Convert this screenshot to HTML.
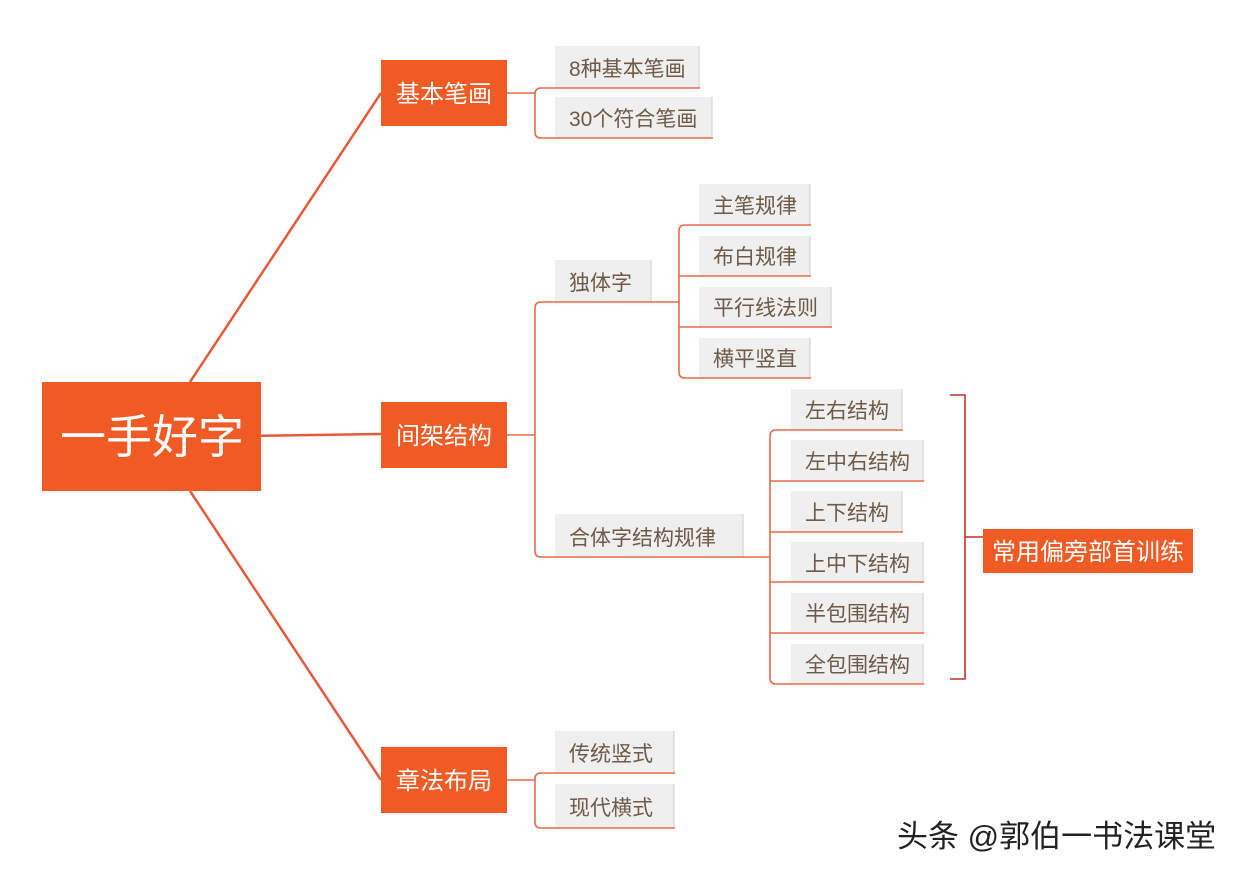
<!DOCTYPE html>
<html><head><meta charset="utf-8"><style>
html,body{margin:0;padding:0;background:#fff;}
svg{display:block;}
text{font-family:"Liberation Sans","Noto Sans CJK SC",sans-serif;}
.l{fill:#6e5a46;font-size:21px;}
.w{fill:#fff;}
</style></head><body>
<svg width="1245" height="878" viewBox="0 0 1245 878" xmlns="http://www.w3.org/2000/svg">
<g stroke="#e8583a" stroke-width="2.5" fill="none">
<line x1="190" y1="382" x2="381" y2="93"/>
<line x1="244" y1="436" x2="381" y2="434"/>
<line x1="190" y1="491" x2="381" y2="780"/>
</g>
<g stroke="#ea6a4c" stroke-width="1.6" fill="none">
<path d="M507 93 H535"/>
<path d="M555 88 H541 Q535 88 535 94 V132 Q535 138 541 138 H555"/>
<path d="M507 435 H535"/>
<path d="M555 302 H541 Q535 302 535 308 V551 Q535 557 541 557 H555"/>
<path d="M651 302 H679"/>
<path d="M699 225 H685 Q679 225 679 231 V372 Q679 378 685 378 H699 M679 276 H699 M679 327 H699"/>
<path d="M743 557 H770"/>
<path d="M791 430 H776 Q770 430 770 436 V678 Q770 684 776 684 H791 M770 481 H791 M770 532 H791 M770 582 H791 M770 633 H791"/>
<path d="M507 780 H535"/>
<path d="M555 773 H541 Q535 773 535 779 V822 Q535 828 541 828 H555"/>
</g>
<g stroke="#c0312b" stroke-width="1.6" fill="none">
<path d="M950 395 H965 V679 H950 M965 537 H983"/>
</g>
<rect x="42" y="382" width="219" height="109" fill="#f05a24"/>
<text x="152" y="453" class="w" font-size="46" text-anchor="middle">一手好字</text>
<rect x="381" y="60" width="126" height="66" fill="#f05a24"/>
<text x="444" y="102" class="w" font-size="24" text-anchor="middle">基本笔画</text>
<rect x="381" y="402" width="126" height="66" fill="#f05a24"/>
<text x="444" y="444" class="w" font-size="24" text-anchor="middle">间架结构</text>
<rect x="381" y="747" width="126" height="66" fill="#f05a24"/>
<text x="444" y="789" class="w" font-size="24" text-anchor="middle">章法布局</text>
<rect x="983" y="529" width="210" height="44" fill="#f05a24"/>
<text x="1088" y="560" class="w" font-size="24" text-anchor="middle">常用偏旁部首训练</text>
<g id="leaves">
<rect x="555" y="46" width="144" height="42" fill="#efefef"/><line x1="699" y1="46" x2="699" y2="88" stroke="#ccc"/><line x1="555" y1="88" x2="700" y2="88" stroke="#ea6a4c" stroke-width="1.6"/><text x="569" y="76" class="l">8种基本笔画</text>
<rect x="555" y="97" width="157" height="41" fill="#efefef"/><line x1="712" y1="97" x2="712" y2="138" stroke="#ccc"/><line x1="555" y1="138" x2="713" y2="138" stroke="#ea6a4c" stroke-width="1.6"/><text x="569" y="126" class="l">30个符合笔画</text>
<rect x="555" y="260" width="96" height="42" fill="#efefef"/><line x1="651" y1="260" x2="651" y2="302" stroke="#ccc"/><line x1="555" y1="302" x2="652" y2="302" stroke="#ea6a4c" stroke-width="1.6"/><text x="569" y="290" class="l">独体字</text>
<rect x="555" y="514" width="188" height="43" fill="#efefef"/><line x1="743" y1="514" x2="743" y2="557" stroke="#ccc"/><line x1="555" y1="557" x2="744" y2="557" stroke="#ea6a4c" stroke-width="1.6"/><text x="569" y="545" class="l">合体字结构规律</text>
<rect x="699" y="184" width="111" height="41" fill="#efefef"/><line x1="810" y1="184" x2="810" y2="225" stroke="#ccc"/><line x1="699" y1="225" x2="811" y2="225" stroke="#ea6a4c" stroke-width="1.6"/><text x="713" y="213" class="l">主笔规律</text>
<rect x="699" y="236" width="111" height="40" fill="#efefef"/><line x1="810" y1="236" x2="810" y2="276" stroke="#ccc"/><line x1="699" y1="276" x2="811" y2="276" stroke="#ea6a4c" stroke-width="1.6"/><text x="713" y="264" class="l">布白规律</text>
<rect x="699" y="287" width="132" height="40" fill="#efefef"/><line x1="831" y1="287" x2="831" y2="327" stroke="#ccc"/><line x1="699" y1="327" x2="832" y2="327" stroke="#ea6a4c" stroke-width="1.6"/><text x="713" y="315" class="l">平行线法则</text>
<rect x="699" y="338" width="111" height="40" fill="#efefef"/><line x1="810" y1="338" x2="810" y2="378" stroke="#ccc"/><line x1="699" y1="378" x2="811" y2="378" stroke="#ea6a4c" stroke-width="1.6"/><text x="713" y="366" class="l">横平竖直</text>
<rect x="791" y="389" width="111" height="41" fill="#efefef"/><line x1="902" y1="389" x2="902" y2="430" stroke="#ccc"/><line x1="791" y1="430" x2="903" y2="430" stroke="#ea6a4c" stroke-width="1.6"/><text x="805" y="418" class="l">左右结构</text>
<rect x="791" y="440" width="132" height="41" fill="#efefef"/><line x1="923" y1="440" x2="923" y2="481" stroke="#ccc"/><line x1="791" y1="481" x2="924" y2="481" stroke="#ea6a4c" stroke-width="1.6"/><text x="805" y="469" class="l">左中右结构</text>
<rect x="791" y="491" width="111" height="41" fill="#efefef"/><line x1="902" y1="491" x2="902" y2="532" stroke="#ccc"/><line x1="791" y1="532" x2="903" y2="532" stroke="#ea6a4c" stroke-width="1.6"/><text x="805" y="520" class="l">上下结构</text>
<rect x="791" y="542" width="132" height="40" fill="#efefef"/><line x1="923" y1="542" x2="923" y2="582" stroke="#ccc"/><line x1="791" y1="582" x2="924" y2="582" stroke="#ea6a4c" stroke-width="1.6"/><text x="805" y="571" class="l">上中下结构</text>
<rect x="791" y="593" width="132" height="40" fill="#efefef"/><line x1="923" y1="593" x2="923" y2="633" stroke="#ccc"/><line x1="791" y1="633" x2="924" y2="633" stroke="#ea6a4c" stroke-width="1.6"/><text x="805" y="621" class="l">半包围结构</text>
<rect x="791" y="644" width="132" height="40" fill="#efefef"/><line x1="923" y1="644" x2="923" y2="684" stroke="#ccc"/><line x1="791" y1="684" x2="924" y2="684" stroke="#ea6a4c" stroke-width="1.6"/><text x="805" y="672" class="l">全包围结构</text>
<rect x="555" y="731" width="119" height="42" fill="#efefef"/><line x1="674" y1="731" x2="674" y2="773" stroke="#ccc"/><line x1="555" y1="773" x2="675" y2="773" stroke="#ea6a4c" stroke-width="1.6"/><text x="569" y="761" class="l">传统竖式</text>
<rect x="555" y="784" width="119" height="44" fill="#efefef"/><line x1="674" y1="784" x2="674" y2="828" stroke="#ccc"/><line x1="555" y1="828" x2="675" y2="828" stroke="#ea6a4c" stroke-width="1.6"/><text x="569" y="815" class="l">现代横式</text>
</g>
<text x="897" y="847" font-size="31" fill="#222">头条 @郭伯一书法课堂</text>
</svg>
</body></html>
